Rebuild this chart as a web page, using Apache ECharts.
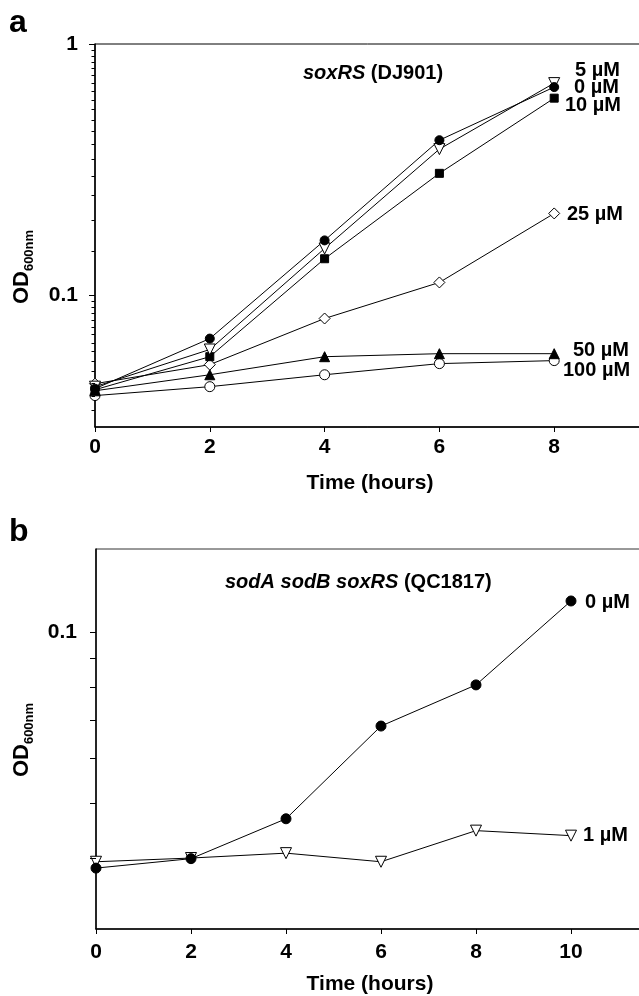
<!DOCTYPE html>
<html><head><meta charset="utf-8">
<script src="https://cdn.jsdelivr.net/npm/echarts@6/dist/echarts.min.js"></script>
<style>html,body{margin:0;padding:0;background:#fff}#c{width:639px;height:996px}</style>
</head><body><div id="c"></div>
<script>
// ---- Panel a: soxRS (DJ901) ----
const hoursA = [0, 2, 4, 6, 8];
const od0uM_A   = [0.0426, 0.0674, 0.1656, 0.4145, 0.674];
const od5uM_A   = [0.0434, 0.0610, 0.1538, 0.382, 0.699];
const od10uM_A  = [0.0422, 0.0571, 0.140, 0.306, 0.609];
const od25uM_A  = [0.0446, 0.0531, 0.0810, 0.1127, 0.212];
const od50uM_A  = [0.0418, 0.0484, 0.0571, 0.0587, 0.0587];
const od100uM_A = [0.0400, 0.0434, 0.0484, 0.0536, 0.0551];
// ---- Panel b: sodA sodB soxRS (QC1817) ----
const hoursB = [0, 2, 4, 6, 8, 10];
const od0uM_B = [0.0384, 0.0399, 0.0469, 0.0683, 0.0807, 0.1134];
const od1uM_B = [0.0394, 0.0400, 0.0408, 0.0394, 0.0447, 0.0438];
// ---- axis ticks ----
const xTickLabelsA = [0, 2, 4, 6, 8];
const xTickLabelsB = [0, 2, 4, 6, 8, 10];
const yMajorTicksA = [0.1, 1];
const yMinorTicksA = [0.035, 0.04, 0.045, 0.05, 0.055, 0.06, 0.065, 0.07, 0.075, 0.08, 0.085, 0.09, 0.095,
                      0.15, 0.2, 0.25, 0.3, 0.35, 0.4, 0.45, 0.5, 0.55, 0.6, 0.65, 0.7, 0.75, 0.8, 0.85, 0.9, 0.95];
const yTicksB = [0.04, 0.05, 0.06, 0.07, 0.08, 0.09, 0.1];
const seriesLabelsA = ['0 \u00b5M', '5 \u00b5M', '10 \u00b5M', '25 \u00b5M', '50 \u00b5M', '100 \u00b5M'];
const seriesLabelsB = ['0 \u00b5M', '1 \u00b5M'];

const FF = '"Liberation Sans", Arial, sans-serif';
const FS = 21;   // tick labels, axis titles
const FT = 20;   // in-plot texts
const chart = echarts.init(document.getElementById('c'), null, {renderer: 'canvas'});

function lineSeries(name, xs, ys, symbol, fill, size, rotate, gi) {
  return {
    name, type: 'line', xAxisIndex: gi, yAxisIndex: gi,
    data: xs.map((x, i) => [x, ys[i]]),
    symbol, symbolSize: size, symbolRotate: rotate || 0, showAllSymbol: true,
    lineStyle: {color: '#000', width: 1},
    itemStyle: {color: fill, borderColor: '#000', borderWidth: 1, opacity: 1},
    emphasis: {disabled: true}, silent: true, clip: false
  };
}
function tickSeries(vals, len, gi) {
  return {
    type: 'custom', xAxisIndex: gi, yAxisIndex: gi, silent: true, clip: false, z: 5,
    data: vals.map(v => [0, v]),
    renderItem: (p, api) => {
      const pt = api.coord([api.value(0), api.value(1)]);
      const y = Math.round(pt[1]) + 0.5;
      return {type: 'line', shape: {x1: pt[0] - len, y1: y, x2: pt[0], y2: y},
              style: {stroke: '#000', lineWidth: 1}};
    }
  };
}
function xAxisCfg(gi, max, margin, ticks) {
  return {
    gridIndex: gi, type: 'value', min: 0, max: max, interval: 2,
    axisLine: {show: true, onZero: false, lineStyle: {color: '#000', width: 1.5}},
    axisTick: {show: true, length: 5, inside: false, lineStyle: {color: '#000', width: 1}},
    axisLabel: {fontSize: FS, fontWeight: 'bold', color: '#000', fontFamily: FF, margin: margin,
                formatter: v => ticks.indexOf(v) >= 0 ? String(v) : ''},
    splitLine: {show: false}
  };
}
function yAxisCfg(gi, min, max, margin) {
  return {
    gridIndex: gi, type: 'log', logBase: 10, min: min, max: max,
    axisLine: {show: true, onZero: false, lineStyle: {color: '#000', width: 1.5}},
    axisTick: {show: false}, minorTick: {show: false},
    axisLabel: {fontSize: FS, fontWeight: 'bold', color: '#000', fontFamily: FF, margin: margin,
                showMinLabel: true, showMaxLabel: true,
                formatter: v => {
                  const l = Math.log10(v);
                  if (Math.abs(l - Math.round(l)) > 1e-6) return '';
                  const r = Math.pow(10, Math.round(l));
                  return r >= 1 ? String(Math.round(r)) : String(+r.toPrecision(1));
                }},
    splitLine: {show: false}
  };
}
function txt(x, y, text, opts) {
  return {type: 'text', x, y, silent: true, rotation: (opts && opts.rotation) || 0,
    style: Object.assign({text, fontSize: FT, fontWeight: 'bold', fontFamily: FF, fill: '#000',
      align: 'left', verticalAlign: 'middle'}, opts && opts.style)};
}
const italicRich = {i: {fontStyle: 'italic', fontWeight: 'bold', fontSize: FT, fontFamily: FF}};
const odRich = {a: {fontSize: FS + 1, fontWeight: 'bold', fontFamily: FF},
                b: {fontSize: 13, fontWeight: 'bold', fontFamily: FF, verticalAlign: 'bottom', padding: [0, 0, -3, 0]}};

chart.setOption({
  animation: false,
  backgroundColor: '#fff',
  grid: [
    {left: 95, top: 44, right: -30, bottom: 569, outerBoundsMode: 'none', containLabel: false,
     show: true, borderColor: '#000', borderWidth: 1, backgroundColor: 'transparent'},
    {left: 96, top: 549, right: -27, bottom: 67, outerBoundsMode: 'none', containLabel: false,
     show: true, borderColor: '#333', borderWidth: 1, backgroundColor: 'transparent'}
  ],
  xAxis: [xAxisCfg(0, 10, 10, xTickLabelsA), xAxisCfg(1, 12, 13, xTickLabelsB)],
  yAxis: [yAxisCfg(0, 0.03, 1, 17), yAxisCfg(1, 0.03, 0.14, 19)],
  series: [
    tickSeries(yMajorTicksA, 6, 0),
    tickSeries(yMinorTicksA, 3.5, 0),
    tickSeries(yTicksB, 6, 1),
    lineSeries(seriesLabelsA[5], hoursA, od100uM_A, 'circle', '#fff', 10, 0, 0),
    lineSeries(seriesLabelsA[4], hoursA, od50uM_A, 'triangle', '#000', 10, 0, 0),
    lineSeries(seriesLabelsA[3], hoursA, od25uM_A, 'diamond', '#fff', 11, 0, 0),
    lineSeries(seriesLabelsA[2], hoursA, od10uM_A, 'rect', '#000', 8, 0, 0),
    lineSeries(seriesLabelsA[1], hoursA, od5uM_A, 'triangle', '#fff', 11, 180, 0),
    lineSeries(seriesLabelsA[0], hoursA, od0uM_A, 'circle', '#000', 9, 0, 0),
    lineSeries(seriesLabelsB[1], hoursB, od1uM_B, 'triangle', '#fff', 11, 180, 1),
    lineSeries(seriesLabelsB[0], hoursB, od0uM_B, 'circle', '#000', 10, 0, 1)
  ],
  graphic: [
    txt(9, 23, 'a', {style: {fontSize: 32}}),
    txt(9, 532, 'b', {style: {fontSize: 32}}),
    txt(303, 73, '{i|soxRS} (DJ901)', {style: {rich: italicRich}}),
    txt(225, 582, '{i|sodA sodB soxRS} (QC1817)', {style: {rich: italicRich}}),
    txt(575, 70, seriesLabelsA[1]),
    txt(574, 87, seriesLabelsA[0]),
    txt(565, 105, seriesLabelsA[2]),
    txt(567, 214, seriesLabelsA[3]),
    txt(573, 350, seriesLabelsA[4]),
    txt(563, 370, seriesLabelsA[5]),
    txt(585, 602, seriesLabelsB[0]),
    txt(583, 835, seriesLabelsB[1]),
    txt(370, 483, 'Time (hours)', {style: {align: 'center', fontSize: FS}}),
    txt(370, 984, 'Time (hours)', {style: {align: 'center', fontSize: FS}}),
    txt(22, 267, '{a|OD}{b|600nm}', {rotation: Math.PI / 2, style: {align: 'center', rich: odRich}}),
    txt(22, 740, '{a|OD}{b|600nm}', {rotation: Math.PI / 2, style: {align: 'center', rich: odRich}})
  ]
});
</script>
</body></html>
